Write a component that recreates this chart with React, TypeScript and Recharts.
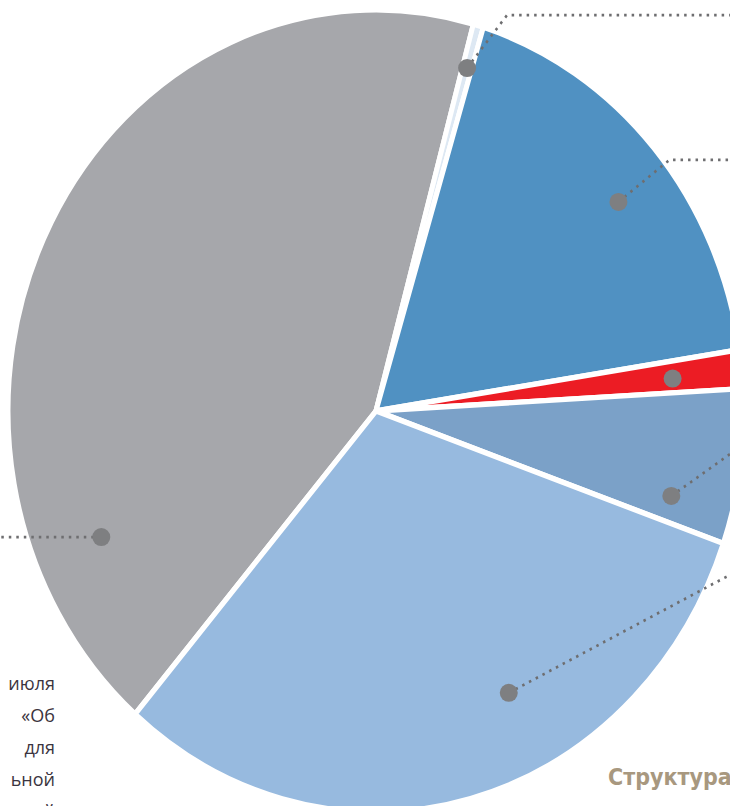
import { PieChart, Pie, Cell } from 'recharts';

const segments = ['Сегмент A', 'Сегмент B', 'Сегмент C', 'Сегмент D', 'Сегмент E', 'Сегмент F'];
const shares = [42.9, 0.45, 17.85, 1.55, 6.25, 31.0];
const COLORS = ['#a6a7ab', '#dde8f3', '#5091c2', '#ec1c24', '#7ba1c8', '#97badf'];

// where each callout dot sits in its slice (t along the arc, f of the radius) + dotted leader in px
const CALLOUTS = [
  { t: 0.17, f: 0.81, leader: [[-120, 0]] },
  { t: 0.5, f: 0.89, leader: [[40, -53], [280, -53]] },
  { t: 0.54, f: 0.84, leader: [[51, -42], [130, -42]] },
  { t: 0.55, f: 0.81, leader: [] },
  { t: 0.8, f: 0.83, leader: [[70, -50]] },
  { t: 0.39, f: 0.79, leader: [[225, -120]] },
];

const sideText = ['июля', '«Об', 'для', 'ьной', 'ской'];
const caption = 'Структура';

const data = segments.map((name, i) => ({ name, value: shares[i] }));

const SY = 1.09; // the original pie is a bit taller than wide

const renderCallout = (props: any) => {
  const { cx, cy, outerRadius, startAngle, endAngle, index } = props;
  const c = CALLOUTS[index];
  const a = ((startAngle + c.t * (endAngle - startAngle)) * Math.PI) / 180;
  const x = cx + c.f * outerRadius * Math.cos(a);
  const y = cy - c.f * outerRadius * Math.sin(a);
  const pts = [[x, y], ...c.leader.map(([dx, dy]) => [x + dx, y + dy / SY])];
  return (
    <g key={`callout-${index}`}>
      {pts.length > 1 && (
        <polyline
          points={pts.map((p) => p.join(',')).join(' ')}
          fill="none"
          stroke="#6e6e70"
          strokeWidth={2.5}
          strokeDasharray="2.5 5"
        />
      )}
      <ellipse cx={x} cy={y} rx={9} ry={9 / SY} fill="#7e7f81" />
    </g>
  );
};

export default function App() {
  return (
    <div style={{ position: 'absolute', left: 0, top: 0, width: 730, height: 806, overflow: 'hidden', background: '#fff' }}>
      <div style={{ position: 'absolute', left: 0, top: 0, transform: `scaleY(${SY})`, transformOrigin: '0 0' }}>
        <PieChart width={760} height={760} margin={{ top: 0, right: 0, bottom: 0, left: 0 }}>
          <Pie
            data={data}
            dataKey="value"
            cx={376}
            cy={377}
            outerRadius={368}
            startAngle={229.1}
            endAngle={-130.9}
            stroke="#fff"
            strokeWidth={5}
            label={renderCallout}
            labelLine={false}
            isAnimationActive={false}
          >
            {data.map((entry, index) => (
              <Cell key={`cell-${index}`} fill={COLORS[index % COLORS.length]} />
            ))}
          </Pie>
        </PieChart>
      </div>
      <svg width={730} height={806} style={{ position: 'absolute', left: 0, top: 0 }}>
        {sideText.map((t, i) => (
          <text key={t} x={55} y={690 + i * 32} textAnchor="end" fontFamily="'Open Sans', sans-serif" fontSize={18} fill="#3b3440">
            {t}
          </text>
        ))}
        <text x={608} y={785} fontFamily="'Liberation Sans Narrow', 'DejaVu Sans Condensed', sans-serif" fontWeight="bold" fontSize={23} fill="#a8987f">
          {caption}
        </text>
      </svg>
    </div>
  );
}
